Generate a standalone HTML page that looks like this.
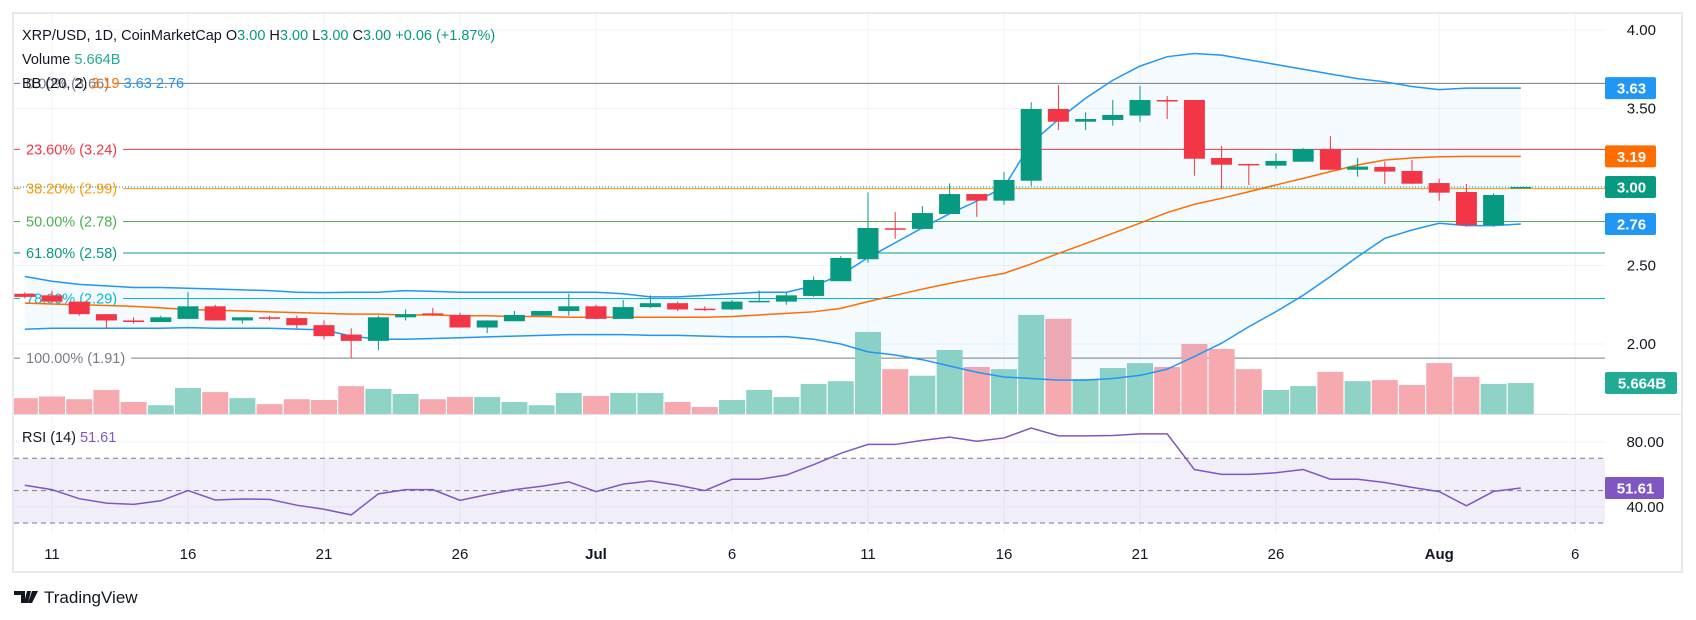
<!DOCTYPE html>
<html><head><meta charset="utf-8">
<style>
html,body{margin:0;padding:0;background:#fff;}
svg{display:block;font-family:"Liberation Sans",sans-serif;}
</style></head>
<body>
<svg id="chart" width="1696" height="620" viewBox="0 0 1696 620" xmlns="http://www.w3.org/2000/svg">
  <defs><clipPath id="plotClip"><rect x="14" y="14" width="1591" height="520"/></clipPath></defs>
  <rect x="0" y="0" width="1696" height="620" fill="#fff"/>
  <rect x="13" y="13" width="1669" height="559" fill="#fff" stroke="#e8e9ee" stroke-width="2"/>
  <g id="grid"></g>
  <g id="fib"></g>
  <g id="main" clip-path="url(#plotClip)"></g>
  <line x1="14" y1="414.5" x2="1681" y2="414.5" stroke="#e0e3eb" stroke-width="1"/>
  <g id="axis"></g>
  <g font-size="14.5">
    <text x="22" y="40" fill="#131722">XRP/USD, 1D, CoinMarketCap <tspan fill="#131722">O</tspan><tspan fill="#089981">3.00</tspan> <tspan fill="#131722">H</tspan><tspan fill="#089981">3.00</tspan> <tspan fill="#131722">L</tspan><tspan fill="#089981">3.00</tspan> <tspan fill="#131722">C</tspan><tspan fill="#089981">3.00</tspan> <tspan fill="#089981">+0.06 (+1.87%)</tspan></text>
    <text x="22" y="64" fill="#131722">Volume <tspan fill="#22ab94">5.664B</tspan></text>
    <text x="22" y="88" fill="#131722">BB (20, 2) <tspan fill="#ff6d00">3.19</tspan> <tspan fill="#2196f3">3.63</tspan> <tspan fill="#2196f3">2.76</tspan></text>
    <text x="22" y="442" fill="#131722">RSI (14) <tspan fill="#7e57c2">51.61</tspan></text>
  </g>
  <g>
    <path d="M14 591h11v12h-4v-8h-7z M27 591h4l-3 12h-4z M32 591h6l-6 12h-4z" fill="#131722"/>
    <text x="44" y="603" font-size="17" fill="#131722">TradingView</text>
  </g>
</svg>
<script>
const dates = ["Jun10","Jun11","Jun12","Jun13","Jun14","Jun15","Jun16","Jun17","Jun18","Jun19","Jun20","Jun21","Jun22","Jun23","Jun24","Jun25","Jun26","Jun27","Jun28","Jun29","Jun30","Jul1","Jul2","Jul3","Jul4","Jul5","Jul6","Jul7","Jul8","Jul9","Jul10","Jul11","Jul12","Jul13","Jul14","Jul15","Jul16","Jul17","Jul18","Jul19","Jul20","Jul21","Jul22","Jul23","Jul24","Jul25","Jul26","Jul27","Jul28","Jul29","Jul30","Jul31","Aug1","Aug2","Aug3","Aug4"];
const opens = [2.32,2.31,2.27,2.19,2.15,2.14,2.16,2.24,2.15,2.17,2.165,2.12,2.06,2.02,2.17,2.195,2.185,2.105,2.145,2.18,2.21,2.24,2.16,2.235,2.26,2.225,2.22,2.27,2.27,2.306,2.40,2.54,2.737,2.733,2.828,2.955,2.913,3.04,3.497,3.416,3.427,3.455,3.554,3.554,3.185,3.147,3.136,3.161,3.242,3.11,3.128,3.102,3.025,2.968,2.758,3.00];
const highs = [2.33,2.34,2.27,2.19,2.17,2.18,2.33,2.25,2.17,2.18,2.18,2.15,2.10,2.18,2.22,2.23,2.20,2.15,2.21,2.21,2.32,2.25,2.28,2.31,2.27,2.24,2.28,2.34,2.33,2.43,2.56,2.966,2.84,2.879,3.023,2.955,3.096,3.54,3.65,3.476,3.554,3.643,3.58,3.554,3.261,3.147,3.214,3.247,3.325,3.185,3.162,3.172,3.053,3.019,2.96,3.00];
const lows = [2.29,2.27,2.18,2.10,2.13,2.14,2.16,2.15,2.13,2.15,2.10,2.03,1.91,1.96,2.15,2.18,2.105,2.07,2.145,2.18,2.18,2.16,2.16,2.23,2.21,2.21,2.215,2.265,2.25,2.30,2.40,2.518,2.67,2.73,2.828,2.81,2.886,3.007,3.363,3.363,3.39,3.416,3.433,3.072,2.99,3.013,3.117,3.161,3.11,3.066,3.019,3.021,2.913,2.747,2.747,3.00];
const closes = [2.30,2.27,2.19,2.15,2.14,2.17,2.24,2.15,2.17,2.165,2.12,2.05,2.02,2.17,2.19,2.185,2.105,2.15,2.185,2.21,2.24,2.16,2.235,2.26,2.22,2.22,2.27,2.275,2.31,2.408,2.548,2.739,2.735,2.834,2.955,2.913,3.045,3.497,3.416,3.433,3.459,3.554,3.55,3.18,3.142,3.142,3.166,3.242,3.11,3.13,3.098,3.021,2.964,2.758,2.949,3.00];
const volumes = [2.9,3.2,2.7,4.4,2.2,1.6,4.75,4.0,2.9,1.8,2.7,2.56,5.1,4.6,3.66,2.7,3.1,3.1,2.2,1.6,3.84,3.3,3.84,3.84,2.2,1.28,2.56,4.4,3.1,5.5,6.0,15,8.2,7.0,11.7,8.6,8.2,18.1,17.4,6.4,8.4,9.3,8.6,12.8,11.9,8.2,4.4,5.1,7.7,6.0,6.2,5.3,9.3,6.8,5.5,5.664];
const bbUpper = [2.43,2.40,2.38,2.37,2.36,2.36,2.355,2.35,2.345,2.34,2.33,2.327,2.33,2.33,2.34,2.335,2.33,2.33,2.33,2.33,2.33,2.33,2.32,2.30,2.30,2.31,2.32,2.33,2.33,2.37,2.44,2.55,2.645,2.74,2.83,2.91,3.0,3.28,3.43,3.565,3.68,3.77,3.83,3.85,3.84,3.81,3.78,3.75,3.72,3.69,3.67,3.64,3.62,3.63,3.63,3.63];
const bbMid = [2.26,2.255,2.25,2.245,2.24,2.23,2.22,2.215,2.21,2.205,2.2,2.195,2.19,2.19,2.185,2.185,2.18,2.18,2.175,2.175,2.17,2.17,2.17,2.17,2.17,2.17,2.175,2.185,2.195,2.205,2.227,2.27,2.31,2.35,2.386,2.42,2.45,2.51,2.577,2.64,2.705,2.77,2.837,2.89,2.928,2.97,3.013,3.055,3.098,3.14,3.172,3.185,3.193,3.195,3.195,3.195];
const bbLower = [2.094,2.10,2.10,2.10,2.10,2.10,2.104,2.10,2.10,2.10,2.095,2.09,2.05,2.03,2.03,2.035,2.04,2.045,2.05,2.055,2.06,2.06,2.06,2.055,2.055,2.05,2.045,2.045,2.047,2.03,2.0,1.95,1.93,1.90,1.86,1.82,1.79,1.78,1.77,1.77,1.78,1.80,1.84,1.92,2.005,2.11,2.206,2.31,2.43,2.556,2.673,2.726,2.769,2.754,2.754,2.764];
const rsi = [53.3,50.6,45,42.3,41.5,43.7,50,44.2,44.8,44.6,41,38.5,35,48,50.6,50.6,44,47.5,50.6,52.7,55.4,49.4,54,56,53.4,50,57,57,59.6,66,73,78.5,78.5,81,83,80.5,82.5,88.6,83.8,83.8,84,85,85,63,60,60,61,63,57,57,55,52,49.4,40.6,49.5,51.61];
const priceTicks = [4.00,3.50,3.00,2.50,2.00];
const priceTickLabels = ["4.00","3.50","3.00","2.50","2.00"];
const rsiTicks = [80,40];
const rsiTickLabels = ["80.00","40.00"];
const xTickIdx = [1,6,11,16,21,26,31,36,41,46,52,57];
const xTickLabels = ["11","16","21","26","Jul","6","11","16","21","26","Aug","6"];
const fibLevels = [3.66,3.24,2.99,2.78,2.58,2.29,1.91];
const fibLabels = ["0.00% (3.66)","23.60% (3.24)","38.20% (2.99)","50.00% (2.78)","61.80% (2.58)","78.60% (2.29)","100.00% (1.91)"];
const lastPrice = 3.00;

const NS="http://www.w3.org/2000/svg";
const X0=52, DX=27.2, PLOT_L=14, PLOT_R=1605;
const xs = i => X0 + DX*(i-1);
const yp = p => 30 + 157*(4-p);
const yv = v => 414 - v*5.47;
const yr = r => 442 + (80-r)*1.62;
function mk(parent, tag, attrs){const e=document.createElementNS(NS,tag);for(const k in attrs)e.setAttribute(k,attrs[k]);parent.appendChild(e);return e;}
const grid=document.getElementById('grid'), main=document.getElementById('main'), axis=document.getElementById('axis'), fib=document.getElementById('fib');

// grid
xTickIdx.forEach((d,i)=>{const l=mk(grid,'line',{x1:xs(d),x2:xs(d),y1:14,y2:533,stroke:'#f0f3fa','stroke-width':1});

});
priceTicks.forEach(p=>{const l=mk(grid,'line',{x1:PLOT_L,x2:PLOT_R,y1:yp(p),y2:yp(p),stroke:'#f0f3fa','stroke-width':1});

});
rsiTicks.forEach(r=>{const l=mk(grid,'line',{x1:PLOT_L,x2:PLOT_R,y1:yr(r),y2:yr(r),stroke:'#f0f3fa','stroke-width':1});

});

// volume
volumes.forEach((v,i)=>{const up=closes[i]>=opens[i];
const r=mk(main,'rect',{x:xs(i)-13,y:yv(v),width:26,height:414-yv(v),fill:up?'#8fd3c7':'#f7a9b0'});

});

// BB fill and lines
let fillPts=bbUpper.map((v,i)=>xs(i)+','+yp(v)).join(' ')+' '+bbLower.map((v,i)=>[xs(i),yp(v)]).reverse().map(a=>a.join(',')).join(' ');
const bf=mk(main,'polygon',{points:fillPts,fill:'rgba(33,150,243,0.05)'});


[[bbUpper,'#2196f3','bb-upper'],[bbLower,'#2196f3','bb-lower'],[bbMid,'#ff6d00','bb-basis']].forEach(([arr,c,n])=>{
const pl=mk(main,'polyline',{points:arr.map((v,i)=>xs(i)+','+yp(v)).join(' '),fill:'none',stroke:c,'stroke-width':1.5});

});

// fib lines
const fibColors=['#787b86','#f23645','#ff9800','#4caf50','#089981','#00bcd4','#787b86'];
fibLevels.forEach((p,i)=>{const y=yp(p);
const t=mk(fib,'text',{x:26,y:y+5,'font-size':14.5,fill:fibColors[i]});t.textContent=fibLabels[i];


const d=mk(fib,'line',{x1:14,x2:20,y1:y,y2:y,stroke:fibColors[i],'stroke-width':1});


const w=t.getComputedTextLength?t.getComputedTextLength():100;
const l=mk(fib,'line',{x1:26+w+6,x2:PLOT_R,y1:y,y2:y,stroke:fibColors[i],'stroke-width':1});

});

// last price dotted
const lp=mk(main,'line',{x1:PLOT_L,x2:PLOT_R,y1:yp(lastPrice),y2:yp(lastPrice),stroke:'#089981','stroke-width':1,'stroke-dasharray':'1 2'});



// candles
opens.forEach((o,i)=>{const c=closes[i],up=c>=o,col=up?'#089981':'#f23645',x=xs(i);
const w=mk(main,'line',{x1:x,x2:x,y1:yp(highs[i]),y2:yp(lows[i]),stroke:col,'stroke-width':1});


const top=yp(Math.max(o,c)),h=Math.max(1.5,Math.abs(yp(o)-yp(c)));
const b=mk(main,'rect',{x:x-10.5,y:top,width:21,height:h,fill:col});

});

// RSI
const band=mk(main,'rect',{x:PLOT_L,y:yr(70),width:PLOT_R-PLOT_L,height:yr(30)-yr(70),fill:'rgba(126,87,194,0.1)'});


[70,50,30].forEach(r=>{const l=mk(main,'line',{x1:PLOT_L,x2:PLOT_R,y1:yr(r),y2:yr(r),stroke:'#787b86','stroke-width':1,'stroke-dasharray':'5 4'});

});
const rl=mk(main,'polyline',{points:rsi.map((v,i)=>xs(i)+','+yr(v)).join(' '),fill:'none',stroke:'#7e57c2','stroke-width':1.5});



// axes labels
priceTicks.forEach((p,i)=>{const t=mk(axis,'text',{x:1656,y:yp(p)+5,'font-size':15,fill:'#131722','text-anchor':'end'});t.textContent=priceTickLabels[i];

});
rsiTicks.forEach((r,i)=>{const t=mk(axis,'text',{x:1664,y:yr(r)+5,'font-size':15,fill:'#131722','text-anchor':'end'});t.textContent=rsiTickLabels[i];

});
xTickIdx.forEach((d,i)=>{const bold=xTickLabels[i]==='Jul'||xTickLabels[i]==='Aug';
const t=mk(axis,'text',{x:xs(d),y:559,'font-size':15,fill:'#131722','text-anchor':'middle','font-weight':bold?'bold':'normal'});t.textContent=xTickLabels[i];

});

// value boxes
const n=closes.length-1;
const boxes=[[yp(bbUpper[n]),bbUpper[n].toFixed(2),'#2196f3',51,'bb-upper-value'],[yp(bbMid[n]),bbMid[n].toFixed(2).replace('3.20','3.19'),'#ff6d00',51,'bb-basis-value'],[yp(lastPrice),lastPrice.toFixed(2),'#089981',51,'last-price-value'],[yp(bbLower[n]),bbLower[n].toFixed(2),'#2196f3',51,'bb-lower-value'],[yv(volumes[n]),volumes[n].toFixed(3)+'B','#22ab94',72,'volume-value'],[yr(rsi[n]),rsi[n].toFixed(2),'#7e57c2',59,'rsi-value']];
boxes.forEach(([y,txt,col,w,name])=>{const g=mk(axis,'g',{});


mk(g,'rect',{x:1605,y:y-11,width:w,height:22,rx:2,fill:col});
const t=mk(g,'text',{x:1605+w/2+1,y:y+5.5,'font-size':15,fill:'#fff','text-anchor':'middle','font-weight':'bold'});t.textContent=txt;});
</script>
</body></html>
